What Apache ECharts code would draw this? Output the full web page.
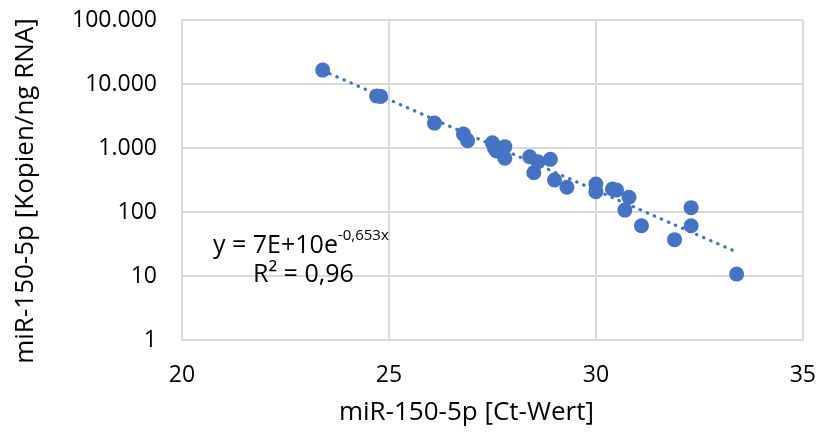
<!DOCTYPE html>
<html><head><meta charset="utf-8">
<script src="https://cdn.jsdelivr.net/npm/echarts@6/dist/echarts.min.js"></script>
<style>html,body{margin:0;padding:0;background:#fff}#c{width:819px;height:434px}</style>
</head><body><div id="c"></div>
<script>
const ctValues = [23.4, 24.7, 24.8, 26.1, 26.8, 26.9, 27.5, 27.55, 27.6, 27.8, 27.8, 28.4, 28.5, 28.6, 28.9, 29.0, 29.3, 30.0, 30.0, 30.4, 30.5, 30.7, 30.8, 31.1, 31.9, 32.3, 32.3, 33.4];
const copyValues = [16500, 6500, 6400, 2450, 1650, 1300, 1210, 990, 900, 1050, 690, 730, 410, 610, 665, 316, 243, 274, 208, 229, 221, 107, 170, 61, 37, 117, 61, 10.7];
const trendX = [23.4, 33.4];
const trendY = [16200, 23.7];
const xTicks = [20, 25, 30, 35];
const yTickLabels = ['1', '10', '100', '1.000', '10.000', '100.000'];
const xTitle = 'miR-150-5p [Ct-Wert]';
const yTitle = 'miR-150-5p [Kopien/ng RNA]';

const FONT = 'Open Sans';
const chart = echarts.init(document.getElementById('c'));
const pts = ctValues.map((x, i) => [x, copyValues[i]]);
const trend = trendX.map((x, i) => [x, trendY[i]]);
chart.setOption({
  animation: false,
  grid: { left: 182, right: 15, top: 20, bottom: 94 },
  xAxis: {
    type: 'value', min: xTicks[0], max: xTicks[xTicks.length - 1], interval: 5,
    name: xTitle, nameLocation: 'middle', nameGap: 60,
    nameTextStyle: { fontFamily: FONT, fontSize: 26, color: '#000', padding: [0, 52, 0, 0] },
    axisLine: { show: true, lineStyle: { color: '#d9d9d9', width: 2 } },
    axisTick: { show: false },
    axisLabel: { fontFamily: FONT, fontSize: 23, color: '#000', margin: 24 },
    splitLine: { show: true, lineStyle: { color: '#d9d9d9', width: 2 } }
  },
  yAxis: {
    type: 'log', logBase: 10, min: 1, max: 100000,
    name: yTitle, nameLocation: 'middle', nameGap: 143, nameRotate: 90,
    nameTextStyle: { fontFamily: FONT, fontSize: 26, color: '#000', padding: [0, 22, 0, 0] },
    axisLine: { show: true, lineStyle: { color: '#d9d9d9', width: 2 } },
    axisTick: { show: false },
    axisLabel: {
      fontFamily: FONT, fontSize: 23, color: '#000', margin: 25,
      formatter: v => yTickLabels[Math.round(Math.log10(v))]
    },
    splitLine: { show: true, lineStyle: { color: '#d9d9d9', width: 2 } }
  },
  series: [
    {
      type: 'line', data: trend, symbol: 'none', z: 1,
      lineStyle: { color: '#4472C4', width: 3.2, type: [0.5, 7.2], cap: 'round' }
    },
    {
      type: 'scatter', data: pts, symbolSize: 15, z: 2,
      itemStyle: { color: '#4472C4', opacity: 1 }
    }
  ],
  graphic: [
    {
      type: 'text', left: 213, top: 228, z: 10,
      style: {
        text: '{n|y = 7E+10e}{s|-0,653x}',
        rich: {
          n: { fontFamily: FONT, fontSize: 25, fill: '#000', verticalAlign: 'bottom' },
          s: { fontFamily: FONT, fontSize: 15, fill: '#000', verticalAlign: 'top', padding: [0, 0, 15, 0] }
        }
      }
    },
    {
      type: 'text', left: 253, top: 262, z: 10,
      style: { text: 'R² = 0,96', fontFamily: FONT, fontSize: 25, fill: '#000' }
    }
  ]
});
</script></body></html>
